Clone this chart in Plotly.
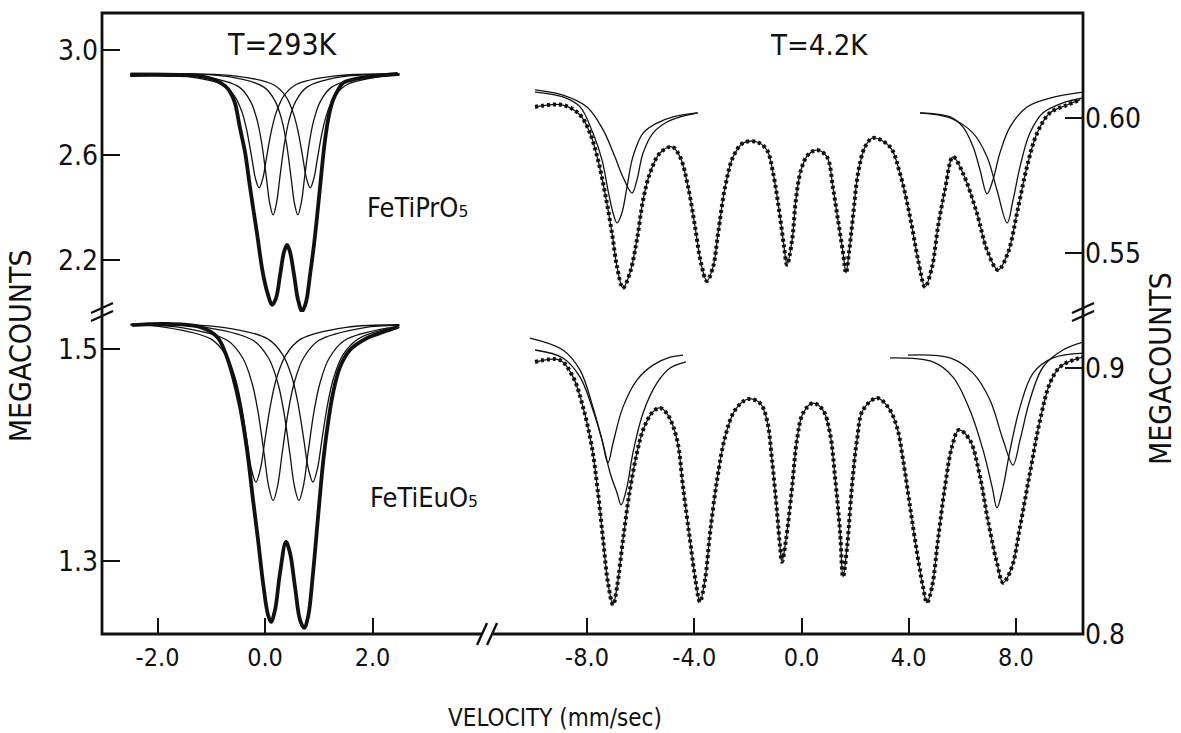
import plotly.graph_objects as go

# ---------------- Panel A: FeTiPrO5, T = 293 K (left, upper) ----------------
pr293_v = [-2.51, -1.77, -1.21, -0.93, -0.74, -0.65, -0.56, -0.47, -0.37, -0.28, -0.15, -0.04, 0.056,
           0.13, 0.205, 0.28, 0.353, 0.41, 0.465, 0.54, 0.614, 0.69, 0.763, 0.837, 0.91, 0.967, 1.023,
           1.116, 1.19, 1.265, 1.358, 1.45, 1.67, 1.90, 2.23, 2.47]
pr293_counts = [2.904, 2.904, 2.900, 2.885, 2.862, 2.840, 2.798, 2.706, 2.608, 2.478, 2.303, 2.151, 2.068,
                2.030, 2.056, 2.144, 2.231, 2.258, 2.231, 2.144, 2.049, 2.006, 2.041, 2.144, 2.258, 2.364,
                2.478, 2.657, 2.752, 2.809, 2.847, 2.874, 2.889, 2.897, 2.904, 2.908]
pr293_c1_v = [-2.5, -1.49, -0.80, -0.57, -0.43, -0.34, -0.248, -0.179, -0.11, -0.041, 0.028, 0.12, 0.212, 0.35, 0.58, 1.27, 2.5]
pr293_c1 = [2.908, 2.900, 2.868, 2.825, 2.764, 2.694, 2.591, 2.511, 2.475, 2.511, 2.591, 2.694, 2.764, 2.825, 2.868, 2.900, 2.908]
pr293_c2_v = [-2.5, -1.11, -0.48, -0.27, -0.144, -0.06, 0.024, 0.087, 0.15, 0.213, 0.276, 0.36, 0.444, 0.57, 0.78, 1.41, 2.5]
pr293_c2 = [2.909, 2.897, 2.858, 2.804, 2.730, 2.642, 2.515, 2.417, 2.372, 2.417, 2.515, 2.642, 2.730, 2.804, 2.858, 2.897, 2.908]
pr293_c3_v = [-2.5, -0.65, -0.02, 0.19, 0.316, 0.40, 0.484, 0.547, 0.61, 0.673, 0.736, 0.82, 0.904, 1.03, 1.24, 1.87, 2.5]
pr293_c3 = [2.910, 2.897, 2.858, 2.804, 2.730, 2.642, 2.515, 2.417, 2.372, 2.417, 2.515, 2.642, 2.730, 2.804, 2.858, 2.897, 2.905]
pr293_c4_v = [-2.5, -0.54, 0.15, 0.38, 0.518, 0.61, 0.702, 0.771, 0.84, 0.909, 0.978, 1.07, 1.162, 1.30, 1.53, 2.22, 2.5]
pr293_c4 = [2.910, 2.900, 2.868, 2.825, 2.764, 2.694, 2.591, 2.511, 2.475, 2.511, 2.591, 2.694, 2.764, 2.825, 2.868, 2.900, 2.904]

# ---------------- Panel B: FeTiEuO5, T = 293 K (left, lower) ----------------
eu293_v = [-2.47, -1.82, -1.21, -0.89, -0.71, -0.595, -0.465, -0.335, -0.223, -0.13, -0.037, 0.056, 0.112,
           0.186, 0.279, 0.39, 0.465, 0.558, 0.651, 0.726, 0.80, 0.893, 0.986, 1.079, 1.172, 1.265, 1.395,
           1.58, 1.90, 2.195, 2.474]
eu293_counts = [1.5226, 1.5236, 1.5208, 1.5113, 1.4925, 1.4736, 1.4453, 1.4047, 1.3575, 1.3198, 1.2792, 1.2490,
                1.2425, 1.2538, 1.2887, 1.3179, 1.3075, 1.2755, 1.2443, 1.2368, 1.2472, 1.2887, 1.3415, 1.3925,
                1.4302, 1.4585, 1.4830, 1.4991, 1.5104, 1.5160, 1.5208]
eu293_c1_v = [-2.5, -1.85, -1.01, -0.73, -0.562, -0.45, -0.338, -0.254, -0.17, -0.086, -0.002, 0.11, 0.222, 0.39, 0.67, 1.51, 2.5]
eu293_c1 = [1.5225, 1.5205, 1.5095, 1.4945, 1.4738, 1.4495, 1.4143, 1.3869, 1.3745, 1.3869, 1.4143, 1.4495, 1.4738, 1.4945, 1.5095, 1.5205, 1.5229]
eu293_c2_v = [-2.5, -1.53, -0.69, -0.41, -0.242, -0.13, -0.018, 0.066, 0.15, 0.234, 0.318, 0.43, 0.542, 0.71, 0.99, 1.83, 2.5]
eu293_c2 = [1.5227, 1.5200, 1.5078, 1.4910, 1.4679, 1.4407, 1.4014, 1.3709, 1.3570, 1.3709, 1.4014, 1.4407, 1.4679, 1.4910, 1.5078, 1.5200, 1.5222]
eu293_c3_v = [-2.5, -1.05, -0.21, 0.07, 0.238, 0.35, 0.462, 0.546, 0.63, 0.714, 0.798, 0.91, 1.022, 1.19, 1.47, 2.31, 2.5]
eu293_c3 = [1.5232, 1.5200, 1.5078, 1.4910, 1.4679, 1.4407, 1.4014, 1.3709, 1.3570, 1.3709, 1.4014, 1.4407, 1.4679, 1.4910, 1.5078, 1.5200, 1.5208]
eu293_c4_v = [-2.5, -0.79, 0.05, 0.33, 0.498, 0.61, 0.722, 0.806, 0.89, 0.974, 1.058, 1.17, 1.282, 1.45, 1.73, 2.2, 2.5]
eu293_c4 = [1.5235, 1.5205, 1.5095, 1.4945, 1.4738, 1.4495, 1.4143, 1.3869, 1.3745, 1.3869, 1.4143, 1.4495, 1.4738, 1.4945, 1.5095, 1.5180, 1.5201]

# ---------------- Panel C: FeTiPrO5, T = 4.2 K (right, upper) ----------------
pr4_v = [-9.94, -8.90, -8.26, -7.89, -7.59, -7.33, -7.07, -6.88, -6.66, -6.40, -6.14, -5.91, -5.65, -5.28,
         -4.83, -4.53, -4.23, -3.97, -3.75, -3.53, -3.30, -3.11, -2.85, -2.55, -2.18, -1.66, -1.29, -1.06,
         -0.80, -0.65, -0.54, -0.35, -0.21, -0.02, 0.24, 0.58, 0.95, 1.17, 1.36, 1.55, 1.66, 1.77, 1.92,
         2.11, 2.37, 2.67, 3.30, 3.67, 4.05, 4.35, 4.61, 4.87, 5.09, 5.35, 5.65, 6.02, 6.54, 6.92, 7.33,
         7.70, 8.04, 8.41, 8.79, 9.27, 9.90, 10.39]
pr4_counts = [0.6041, 0.6048, 0.6011, 0.5944, 0.5844, 0.5722, 0.5574, 0.5448, 0.5370, 0.5426, 0.5548, 0.5696,
              0.5796, 0.5870, 0.5893, 0.5856, 0.5744, 0.5596, 0.5463, 0.5396, 0.5448, 0.5574, 0.5744, 0.5856,
              0.5907, 0.5911, 0.5881, 0.5796, 0.5633, 0.5522, 0.5456, 0.5548, 0.5696, 0.5807, 0.5863, 0.5881,
              0.5856, 0.5744, 0.5622, 0.5500, 0.5426, 0.5500, 0.5633, 0.5796, 0.5893, 0.5926, 0.5893, 0.5796,
              0.5633, 0.5474, 0.5374, 0.5448, 0.5596, 0.5733, 0.5856, 0.5796, 0.5648, 0.5511, 0.5437, 0.5500,
              0.5648, 0.5819, 0.5944, 0.6019, 0.6048, 0.6067]
pr4_c1_v = [-9.94, -8.90, -8.26, -7.78, -7.44, -7.22, -7.03, -6.88, -6.70, -6.51, -6.29, -5.91, -5.39, -4.79, -3.90]
pr4_c1 = [0.6096, 0.6078, 0.6041, 0.5944, 0.5844, 0.5733, 0.5648, 0.5611, 0.5648, 0.5744, 0.5856, 0.5944, 0.5981, 0.6004, 0.6019]
pr4_c2_v = [-9.94, -8.90, -8.00, -7.40, -6.96, -6.66, -6.32, -6.14, -5.91, -5.54, -5.02, -4.53, -3.86]
pr4_c2 = [0.6104, 0.6085, 0.6041, 0.5956, 0.5856, 0.5781, 0.5722, 0.5770, 0.5870, 0.5944, 0.5985, 0.6004, 0.6019]
pr4_c3_v = [4.42, 5.54, 6.02, 6.40, 6.66, 6.92, 7.14, 7.40, 7.78, 8.41, 9.27, 10.50]
pr4_c3 = [0.6019, 0.6004, 0.5967, 0.5893, 0.5807, 0.5719, 0.5770, 0.5870, 0.5967, 0.6041, 0.6074, 0.6096]
pr4_c4_v = [4.42, 5.54, 6.40, 6.92, 7.29, 7.67, 7.89, 8.15, 8.52, 9.01, 9.75, 10.50]
pr4_c4 = [0.6019, 0.6000, 0.5944, 0.5856, 0.5733, 0.5611, 0.5696, 0.5819, 0.5944, 0.6019, 0.6056, 0.6074]

# ---------------- Panel D: FeTiEuO5, T = 4.2 K (right, lower) ----------------
eu4_v = [-9.94, -9.01, -8.52, -8.15, -7.82, -7.59, -7.40, -7.22, -7.03, -6.88, -6.66, -6.40, -6.14, -5.91,
         -5.58, -5.28, -4.98, -4.64, -4.42, -4.16, -3.94, -3.79, -3.60, -3.41, -3.15, -2.85, -2.48, -2.00,
         -1.55, -1.29, -1.10, -0.91, -0.80, -0.73, -0.58, -0.35, -0.17, 0.06, 0.43, 0.80, 1.06, 1.25, 1.44,
         1.55, 1.70, 1.88, 2.07, 2.29, 2.82, 3.23, 3.56, 3.79, 4.05, 4.31, 4.53, 4.68, 4.87, 5.09, 5.35,
         5.61, 5.87, 6.28, 6.66, 6.95, 7.29, 7.52, 7.85, 8.15, 8.52, 8.90, 9.27, 9.64, 10.12, 10.50]
eu4_counts = [0.9023, 0.9030, 0.8966, 0.8853, 0.8703, 0.8530, 0.8353, 0.8192, 0.8109, 0.8177, 0.8353, 0.8541,
              0.8680, 0.8767, 0.8831, 0.8850, 0.8823, 0.8729, 0.8553, 0.8353, 0.8192, 0.8120, 0.8203, 0.8380,
              0.8579, 0.8741, 0.8842, 0.8883, 0.8868, 0.8805, 0.8654, 0.8455, 0.8327, 0.8271, 0.8353, 0.8553,
              0.8729, 0.8831, 0.8868, 0.8842, 0.8756, 0.8590, 0.8380, 0.8214, 0.8327, 0.8553, 0.8729, 0.8842,
              0.8887, 0.8853, 0.8778, 0.8654, 0.8477, 0.8305, 0.8177, 0.8117, 0.8177, 0.8353, 0.8553, 0.8703,
              0.8767, 0.8729, 0.8590, 0.8429, 0.8267, 0.8192, 0.8252, 0.8402, 0.8605, 0.8805, 0.8944, 0.9004,
              0.9030, 0.9041]
eu4_c1_v = [-10.13, -8.90, -8.26, -7.78, -7.44, -7.22, -7.03, -6.66, -6.14, -5.54, -4.90, -4.42]
eu4_c1 = [0.9113, 0.9068, 0.8992, 0.8853, 0.8729, 0.8643, 0.8718, 0.8853, 0.8955, 0.9011, 0.9041, 0.9049]
eu4_c2_v = [-9.94, -8.90, -8.26, -7.78, -7.44, -7.14, -6.88, -6.73, -6.51, -6.29, -5.91, -5.39, -4.90, -4.31]
eu4_c2 = [0.9068, 0.9038, 0.8966, 0.8842, 0.8729, 0.8605, 0.8530, 0.8485, 0.8553, 0.8680, 0.8831, 0.8944, 0.9000, 0.9023]
eu4_c3_v = [3.30, 4.90, 5.65, 6.28, 6.77, 7.11, 7.29, 7.52, 7.78, 8.15, 8.64, 9.38, 10.50]
eu4_c3 = [0.9038, 0.9023, 0.8966, 0.8842, 0.8692, 0.8553, 0.8474, 0.8553, 0.8692, 0.8853, 0.8981, 0.9038, 0.9056]
eu4_c4_v = [3.97, 5.54, 6.40, 7.03, 7.52, 7.89, 8.15, 8.52, 9.01, 9.75, 10.50]
eu4_c4 = [0.9049, 0.9038, 0.8981, 0.8880, 0.8729, 0.8635, 0.8729, 0.8880, 0.9004, 0.9068, 0.9098]

# tick labels
left_x_ticks = [-2, 0, 2]
left_x_text = ["-2.0", "0.0", "2.0"]
right_x_ticks = [-8, -4, 0, 4, 8]
right_x_text = ["-8.0", "-4.0", "0.0", "4.0", "8.0"]
a_y_ticks, a_y_text = [2.2, 2.6, 3.0], ["2.2", "2.6", "3.0"]
b_y_ticks, b_y_text = [1.3, 1.5], ["1.3", "1.5"]
c_y_ticks, c_y_text = [0.55, 0.60], ["0.55", "0.60"]
d_y_ticks, d_y_text = [0.8, 0.9], ["0.8", "0.9"]

FONT = "DejaVu Sans Condensed, Liberation Sans Narrow, Roboto Condensed, Liberation Sans, sans-serif"
BLACK = "#111111"

fig = go.Figure()


def comp(x, y, xa, ya):
    fig.add_trace(go.Scatter(x=x, y=y, xaxis=xa, yaxis=ya, mode="lines",
                             line=dict(color=BLACK, width=1.3, shape="spline", smoothing=1.0),
                             showlegend=False, hoverinfo="skip"))


def data_thick(x, y, xa, ya):
    fig.add_trace(go.Scatter(x=x, y=y, xaxis=xa, yaxis=ya, mode="lines",
                             line=dict(color=BLACK, width=3.8, shape="spline", smoothing=1.0),
                             showlegend=False, hoverinfo="skip"))


def data_dots(x, y, xa, ya):
    fig.add_trace(go.Scatter(x=x, y=y, xaxis=xa, yaxis=ya, mode="lines",
                             line=dict(color=BLACK, width=4.0, shape="spline", smoothing=1.0, dash="3px,3px"),
                             showlegend=False, hoverinfo="skip"))
    fig.add_trace(go.Scatter(x=x, y=y, xaxis=xa, yaxis=ya, mode="lines",
                             line=dict(color=BLACK, width=1.3, shape="spline", smoothing=1.0),
                             showlegend=False, hoverinfo="skip"))


# Panel A
for cx, cy in [(pr293_c1_v, pr293_c1), (pr293_c2_v, pr293_c2), (pr293_c3_v, pr293_c3), (pr293_c4_v, pr293_c4)]:
    comp(cx, cy, "x", "y")
data_thick(pr293_v, pr293_counts, "x", "y")
# Panel B
for cx, cy in [(eu293_c1_v, eu293_c1), (eu293_c2_v, eu293_c2), (eu293_c3_v, eu293_c3), (eu293_c4_v, eu293_c4)]:
    comp(cx, cy, "x", "y2")
data_thick(eu293_v, eu293_counts, "x", "y2")
# Panel C
for cx, cy in [(pr4_c1_v, pr4_c1), (pr4_c2_v, pr4_c2), (pr4_c3_v, pr4_c3), (pr4_c4_v, pr4_c4)]:
    comp(cx, cy, "x2", "y3")
data_dots(pr4_v, pr4_counts, "x2", "y3")
# Panel D
for cx, cy in [(eu4_c1_v, eu4_c1), (eu4_c2_v, eu4_c2), (eu4_c3_v, eu4_c3), (eu4_c4_v, eu4_c4)]:
    comp(cx, cy, "x2", "y4")
data_dots(eu4_v, eu4_counts, "x2", "y4")

XSPLIT = 0.3925
YSPLIT = 0.5185

axis_common = dict(showgrid=False, zeroline=False, showline=False, ticks="inside",
                   tickcolor=BLACK, tickwidth=1.8, fixedrange=True)
ytick_font = dict(family=FONT, size=28, color=BLACK)
xtick_font = dict(family=FONT, size=25, color=BLACK)

fig.update_layout(
    width=1181, height=733,
    margin=dict(l=102, r=98, t=13, b=99, pad=0),
    paper_bgcolor="white", plot_bgcolor="white",
    showlegend=False,
    xaxis=dict(domain=[0, XSPLIT], range=[-3.033, 4.130], anchor="y2", tickfont=xtick_font,
               tickvals=left_x_ticks, ticktext=left_x_text, ticklen=16, ticklabelstandoff=6, **axis_common),
    xaxis2=dict(domain=[XSPLIT, 1], range=[-11.73, 10.50], anchor="y4", tickfont=xtick_font,
                tickvals=right_x_ticks, ticktext=right_x_text, ticklen=16, ticklabelstandoff=6, **axis_common),
    yaxis=dict(domain=[YSPLIT, 1], range=[2.003, 3.140], anchor="x", tickfont=ytick_font,
               tickvals=a_y_ticks, ticktext=a_y_text, ticklen=18, ticklabelstandoff=3, **axis_common),
    yaxis2=dict(domain=[0, YSPLIT], range=[1.2311, 1.5349], anchor="x", tickfont=ytick_font,
                tickvals=b_y_ticks, ticktext=b_y_text, ticklen=18, ticklabelstandoff=3, **axis_common),
    yaxis3=dict(domain=[YSPLIT, 1], range=[0.5281, 0.6389], anchor="x2", side="right", tickfont=ytick_font,
                tickvals=c_y_ticks, ticktext=c_y_text, ticklen=18, ticklabelstandoff=1, **axis_common),
    yaxis4=dict(domain=[0, YSPLIT], range=[0.7999, 0.9211], anchor="x2", side="right", tickfont=ytick_font,
                tickvals=d_y_ticks, ticktext=d_y_text, ticklen=18, ticklabelstandoff=1, **axis_common),
)

shapes = [
    dict(type="rect", xref="paper", yref="paper", x0=0, x1=1, y0=0, y1=1,
         line=dict(color=BLACK, width=2.8), fillcolor="rgba(0,0,0,0)", layer="above"),
    # gap in the bottom axis at the break
    dict(type="line", xref="paper", yref="paper", xsizemode="pixel", ysizemode="pixel",
         xanchor=XSPLIT, yanchor=0, x0=-5, x1=6, y0=0, y1=0, line=dict(color="white", width=5)),
]
# break marks
for dx in (-5, 5):
    shapes.append(dict(type="line", xref="paper", yref="paper", xsizemode="pixel", ysizemode="pixel",
                       xanchor=XSPLIT, yanchor=0, x0=dx - 5, x1=dx + 5, y0=-11, y1=11,
                       line=dict(color=BLACK, width=2.4)))
for xa in (0, 1):
    for dy in (-4, 4):
        shapes.append(dict(type="line", xref="paper", yref="paper", xsizemode="pixel", ysizemode="pixel",
                           xanchor=xa, yanchor=YSPLIT, x0=-11, x1=11, y0=dy - 5, y1=dy + 5,
                           line=dict(color=BLACK, width=2.4)))
fig.update_layout(shapes=shapes)

annotations = [
    dict(text="T=293K", x=0.1835, y=0.950, xref="paper", yref="paper", showarrow=False,
         xanchor="center", yanchor="middle", font=dict(family=FONT, size=30, color=BLACK)),
    dict(text="T=4.2K", x=0.731, y=0.948, xref="paper", yref="paper", showarrow=False,
         xanchor="center", yanchor="middle", font=dict(family=FONT, size=29, color=BLACK)),
    dict(text="FeTiPrO\u2085", x=0.268, y=0.686, xref="paper", yref="paper", showarrow=False,
         xanchor="left", yanchor="middle", font=dict(family=FONT, size=27, color=BLACK)),
    dict(text="FeTiEuO\u2085", x=0.271, y=0.2206, xref="paper", yref="paper", showarrow=False,
         xanchor="left", yanchor="middle", font=dict(family=FONT, size=27, color=BLACK)),
    dict(text="MEGACOUNTS", x=-0.0836, y=0.465, xref="paper", yref="paper", showarrow=False,
         textangle=-90, xanchor="center", yanchor="middle", font=dict(family=FONT, size=30, color=BLACK)),
    dict(text="MEGACOUNTS", x=1.0785, y=0.4267, xref="paper", yref="paper", showarrow=False,
         textangle=-90, xanchor="center", yanchor="middle", font=dict(family=FONT, size=30, color=BLACK)),
    dict(text="VELOCITY (mm/sec)", x=0.4618, y=-0.135, xref="paper", yref="paper", showarrow=False,
         xanchor="center", yanchor="middle", font=dict(family=FONT, size=24, color=BLACK)),
]
fig.update_layout(annotations=annotations)

fig.write_html("out.html")
